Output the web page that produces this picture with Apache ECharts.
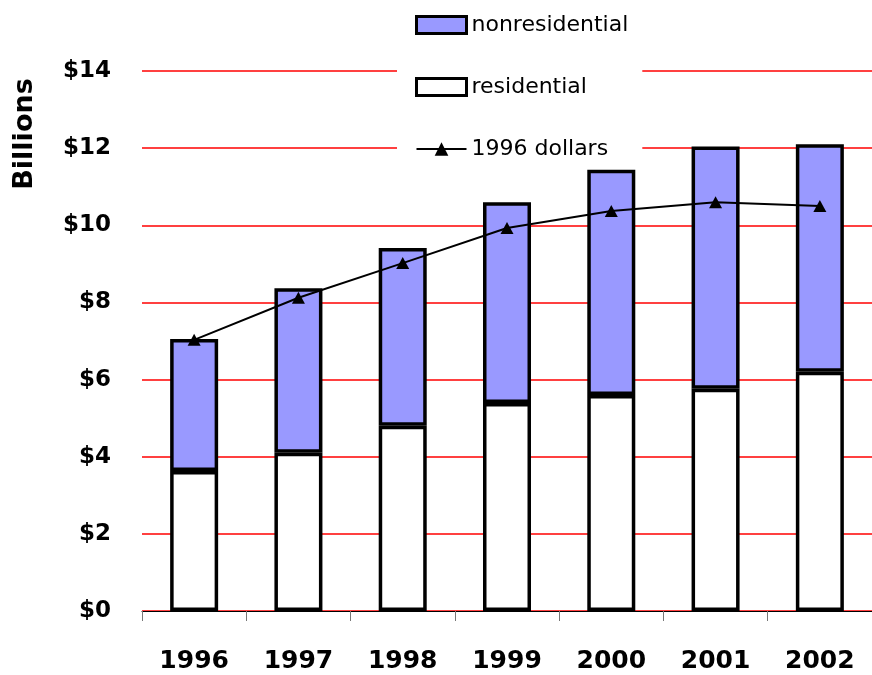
<!DOCTYPE html>
<html>
<head>
<meta charset="utf-8">
<script src="https://cdn.jsdelivr.net/npm/echarts@6/dist/echarts.min.js"></script>
<style>html,body{margin:0;padding:0;background:#fff}#c{width:872px;height:675px}</style>
</head>
<body>
<div id="c"></div>
<script>
var years = ['1996','1997','1998','1999','2000','2001','2002'];
var residential = [3.63, 4.10, 4.80, 5.39, 5.60, 5.76, 6.20];
var nonresidential = [3.42, 4.27, 4.61, 5.21, 5.84, 6.28, 5.90];
var dollars1996 = [7.03, 8.12, 9.02, 9.93, 10.37, 10.60, 10.50];
var yTicks = [0, 2, 4, 6, 8, 10, 12, 14];

var chart = echarts.init(document.getElementById('c'));
chart.setOption({
  backgroundColor: '#fff',
  animation: false,
  grid: {left: 142, top: 71, width: 739, height: 540},
  graphic: [{
    type: 'text', x: 25, y: 134, rotation: Math.PI / 2,
    style: {text: 'Billions', fontFamily: 'DejaVu Sans', fontWeight: 'bold', fontSize: 27, fill: '#000',
      align: 'center', verticalAlign: 'middle'}
  }],
  legend: {
    orient: 'vertical',
    left: 397, top: 0,
    padding: [14, 14, 6, 18],
    backgroundColor: '#fff',
    itemWidth: 50, itemHeight: 17,
    itemGap: 40,
    data: [
      {name: 'nonresidential', icon: 'rect', itemStyle: {borderColor: '#000', borderWidth: 3}},
      {name: 'residential', icon: 'rect', itemStyle: {borderColor: '#000', borderWidth: 3}},
      {name: '1996 dollars'}
    ],
    textStyle: {fontFamily: 'DejaVu Sans', fontSize: 22, color: '#000'}
  },
  xAxis: {
    type: 'category',
    data: years,
    boundaryGap: true,
    axisLine: {lineStyle: {color: '#000', width: 1}},
    axisTick: {show: true, length: 10, lineStyle: {color: '#777', width: 1}},
    axisLabel: {fontFamily: 'DejaVu Sans', fontWeight: 'bold', fontSize: 25, color: '#000', margin: 38}
  },
  yAxis: {
    type: 'value',
    min: yTicks[0], max: yTicks[yTicks.length - 1], interval: 2,
    axisLine: {show: false},
    axisTick: {show: false},
    splitLine: {lineStyle: {color: '#FF0000', width: 1.5}},
    axisLabel: {fontFamily: 'DejaVu Sans', fontWeight: 'bold', fontSize: 23, color: '#000', margin: 31,
      formatter: function (v) { return '$' + v; }}
  },
  series: [
    {
      name: 'residential', type: 'bar', stack: 'total', data: residential,
      barWidth: 48,
      itemStyle: {color: '#FFFFFF', borderColor: '#000', borderWidth: 3.5}
    },
    {
      name: 'nonresidential', type: 'bar', stack: 'total', data: nonresidential,
      barWidth: 48,
      itemStyle: {color: '#9999FF', borderColor: '#000', borderWidth: 3.5}
    },
    {
      name: '1996 dollars', type: 'line', data: dollars1996, z: 5,
      symbol: 'triangle', symbolSize: [13, 12],
      lineStyle: {color: '#000', width: 2},
      itemStyle: {color: '#000'}
    }
  ]
});
</script>
</body>
</html>
